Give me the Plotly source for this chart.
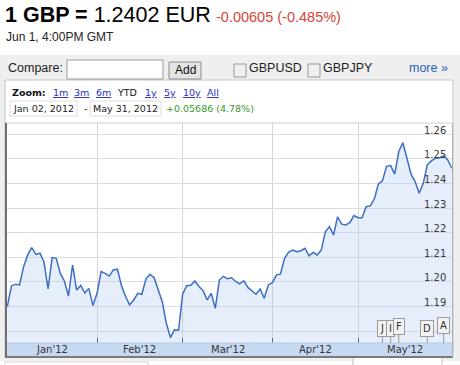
import plotly.graph_objects as go
import pandas as pd

W, H = 460, 365

# ---- data ----
dates = pd.bdate_range("2012-01-02", "2012-06-01")  # trading days (weekdays)
rate = [1.1900, 1.1983, 1.1991, 1.1988, 1.2062, 1.2110, 1.2140, 1.2112, 1.2117, 1.2081,
        1.1972, 1.2099, 1.2096, 1.2035, 1.2004, 1.1943, 1.2069, 1.1967, 1.1986, 1.1955,
        1.1974, 1.1904, 1.1954, 1.2042, 1.2035, 1.2024, 1.2049, 1.2052, 1.1985, 1.1941,
        1.1907, 1.1927, 1.1954, 1.1950, 1.2013, 1.2031, 1.2017, 1.1972, 1.1920, 1.1832,
        1.1774, 1.1806, 1.1805, 1.1951, 1.1985, 1.1987, 1.2004, 1.1982, 1.1965, 1.1927,
        1.1954, 1.1893, 1.2008, 1.2023, 1.2013, 1.2017, 1.2002, 1.1992, 1.2005, 1.1978,
        1.1965, 1.1950, 1.1972, 1.1934, 1.1988, 1.1997, 1.2028, 1.2033, 1.2096, 1.2121,
        1.2130, 1.2123, 1.2127, 1.2137, 1.2106, 1.2120, 1.2110, 1.2130, 1.2204, 1.2225,
        1.2191, 1.2265, 1.2235, 1.2232, 1.2241, 1.2270, 1.2261, 1.2261, 1.2306, 1.2309,
        1.2337, 1.2398, 1.2411, 1.2470, 1.2473, 1.2438, 1.2530, 1.2566, 1.2503, 1.2438,
        1.2408, 1.2361, 1.2401, 1.2476, 1.2492, 1.2503, 1.2505, 1.2512, 1.2496, 1.2462]
month_labels = ["Jan'12", "Feb'12", "Mar'12", "Apr'12", "May'12"]
y_ticks = [1.19, 1.20, 1.21, 1.22, 1.23, 1.24, 1.25, 1.26]
zoom_links = ["1m", "3m", "6m", "YTD", "1y", "5y", "10y", "All"]
flag_letters = ["J", "I", "F", "D", "A"]
flag_dates = ["2012-05-09", "2012-05-11", "2012-05-15", "2012-05-24", "2012-05-30"]

idx = list(range(len(dates)))
month_starts = [0] + [i for i in range(1, len(dates)) if dates[i].month != dates[i - 1].month]
month_bounds = month_starts + [len(dates) - 1]


def px(x):
    return x / W


def py(y):
    return 1 - y / H


fig = go.Figure()
fig.add_trace(go.Scatter(
    x=idx, y=rate, mode="lines",
    line=dict(color="#3c6ec4", width=1.5),
    fill="tozeroy", fillcolor="rgba(170,200,240,0.30)",
    hoverinfo="skip", showlegend=False,
))

shapes = []
annotations = []


def rect(x0, y0, x1, y1, fill, line="rgba(0,0,0,0)", lw=1, layer="below"):
    shapes.append(dict(type="rect", xref="paper", yref="paper",
                       x0=px(x0), x1=px(x1), y0=py(y1), y1=py(y0),
                       fillcolor=fill, line=dict(color=line, width=lw), layer=layer))


def hline(x0, x1, y, color, w=1, layer="above"):
    shapes.append(dict(type="line", xref="paper", yref="paper",
                       x0=px(x0), x1=px(x1), y0=py(y), y1=py(y),
                       line=dict(color=color, width=w), layer=layer))


def vline(x, y0, y1, color, w=1, layer="above"):
    shapes.append(dict(type="line", xref="paper", yref="paper",
                       x0=px(x), x1=px(x), y0=py(y0), y1=py(y1),
                       line=dict(color=color, width=w), layer=layer))


def text(t, x, y, size, color="#000", family="Liberation Sans", xanchor="left", **kw):
    annotations.append(dict(text=t, x=px(x), y=py(y), xref="paper", yref="paper",
                            xanchor=xanchor, yanchor="middle", showarrow=False,
                            font=dict(size=size, color=color, family=family), **kw))


# background containers
rect(0, 55, 460, 361, "#efefef")
rect(5, 80, 453, 357, "#ffffff", line="#c4c4c4")
rect(5, 362, 148, 366, "#ffffff", line="#d0d0d0")
rect(353, 357, 442, 366, "#ffffff", line="#c0c0c0")

# header
text("<b>1 GBP =</b> 1.2402 EUR", 3, 15, 21.5)
text("-0.00605 (-0.485%)", 214, 17.5, 14.5, color="#d64537")
text("Jun 1, 4:00PM GMT", 4, 37.5, 12, color="#222")

# compare bar
text("Compare:", 6, 68.5, 12.5, color="#222")
rect(67, 60, 163, 79, "#ffffff", line="#9a9a9a")
rect(169, 62, 201, 79, "#e4e4e4", line="#8a8a8a")
text("Add", 185, 70, 12, color="#111", xanchor="center")
rect(234, 64, 246, 77, "#f0f0f0", line="#999999")
text("GBPUSD", 247, 68.5, 12.5, color="#222")
rect(308, 64, 320, 77, "#f0f0f0", line="#999999")
text("GBPJPY", 321, 68.5, 12.5, color="#222")
text("more »", 407, 68.5, 12.5, color="#2d5fbf")

# zoom row
text("<b>Zoom:</b>", 10, 92.5, 9.5, color="#111", family="DejaVu Sans")
zoom_x = [52, 73, 95, 116, 144, 163, 182, 206]
for lab, zx in zip(zoom_links, zoom_x):
    if lab == "YTD":
        text(lab, zx - 1, 92.5, 9.5, color="#111", family="DejaVu Sans")
    else:
        text("<u>" + lab + "</u>", zx - 1, 92.5, 9.5, color="#2530c8", family="DejaVu Sans")

# date row
rect(10, 101, 77, 116, "#ffffff", line="#dddddd")
text(dates[0].strftime("%b %d, %Y"), 11, 108.7, 9.5, color="#222", family="DejaVu Sans")
text("-", 82, 108.7, 9.5, color="#222", family="DejaVu Sans")
rect(90, 101, 161, 116, "#ffffff", line="#dddddd")
text("May 31, 2012", 91, 108.7, 9.5, color="#222", family="DejaVu Sans")
text("+0.05686 (4.78%)", 164, 108.7, 9.5, color="#3a9a30", family="DejaVu Sans")

# plot frame / axis band
hline(5, 453, 123, "#cfcfcf", 1)
rect(7, 343, 452, 356, "#c7d9f1", layer="above")
hline(5, 453, 357, "#7a7a7a", 2)
vline(6, 123, 358, "#6e6e6e", 2)
vline(452.5, 123, 357, "#b0b0b0", 1)
hline(7, 452, 343, "#b5c8e2", 1)

# month labels in band
for k, lab in enumerate(month_labels):
    mid = (month_bounds[k] + month_bounds[k + 1]) / 2
    annotations.append(dict(text=lab, x=mid, y=py(349.8), xref="x", yref="paper",
                            xanchor="center", yanchor="middle", showarrow=False,
                            font=dict(size=10, color="#333", family="DejaVu Sans")))

# y labels inside right
for v in y_ticks:
    annotations.append(dict(text=f"{v:.2f}", x=px(448), y=v, xref="paper", yref="y",
                            xanchor="right", yanchor="middle", yshift=4, showarrow=False,
                            font=dict(size=10, color="#3a3a3a", family="DejaVu Sans")))

# news flags
date_str = [d.strftime("%Y-%m-%d") for d in dates]
flag_y = [328.5, 328.5, 326.5, 328.5, 325.5]
for letter, fd, fy in zip(flag_letters, flag_dates, flag_y):
    fi = date_str.index(fd)
    shapes.append(dict(type="line", xref="x", yref="paper", x0=fi, x1=fi,
                       y0=py(343), y1=py(fy + 7), line=dict(color="#9a9a9a", width=1), layer="above"))
    annotations.append(dict(text=letter, x=fi, y=py(fy), xref="x", yref="paper",
                            xanchor="center", yanchor="middle", showarrow=False,
                            bgcolor="#f2f2f2", bordercolor="#9a9a9a", borderwidth=1, borderpad=2,
                            font=dict(size=10, color="#333", family="DejaVu Sans")))

n = len(dates)
fig.update_layout(
    width=W, height=H,
    margin=dict(l=0, r=0, t=0, b=0),
    paper_bgcolor="#ffffff",
    plot_bgcolor="#ffffff",
    showlegend=False,
    xaxis=dict(domain=[px(7), px(452)], range=[-0.074, n - 1 + 0.05],
               tickmode="array", tickvals=month_starts, showticklabels=False,
               ticks="inside", ticklen=5, tickcolor="#666", tickwidth=1,
               showgrid=True, gridcolor="#d6d6d6", gridwidth=1,
               zeroline=False, showline=False, fixedrange=True),
    yaxis=dict(domain=[py(343), py(123)], range=[1.1752, 1.2646],
               tick0=1.18, dtick=0.01, showticklabels=False, ticks="",
               showgrid=True, gridcolor="#dedede", gridwidth=1,
               zeroline=False, showline=False, fixedrange=True),
    shapes=shapes,
    annotations=annotations,
)

fig.write_html("out.html", config={"displayModeBar": False},
               post_script="document.body.style.margin='0';")
